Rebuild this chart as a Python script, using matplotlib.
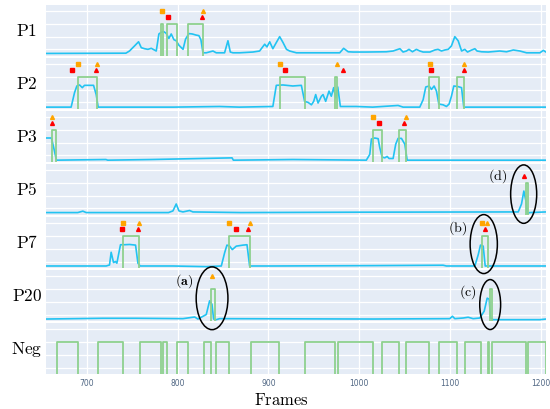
import numpy as np
import matplotlib.pyplot as plt
from matplotlib.patches import Ellipse

plt.rcParams['mathtext.fontset'] = 'cm'

panels = ['P1', 'P2', 'P3', 'P5', 'P7', 'P20', 'Neg']

# cyan score curves (frame, value)
f_p1 = [655, 743, 747, 752.6, 757, 760, 763.6, 767.3, 771, 776.5, 779.4, 782, 784.6, 787.5, 790.4, 793, 796, 798.5,
        801.5, 806, 808.8, 812.5, 816.2, 820, 823.5, 825.7, 828, 831.6, 839, 842.6, 851.8, 855.5, 858.1, 861, 868.4,
        883, 890.4, 896, 898.5, 901.5, 905, 908.8, 912.5, 916.2, 920, 923.5, 931, 942, 964, 978.7, 983, 988, 993.4,
        1008, 1030, 1037.5, 1045, 1048.5, 1052.2, 1055, 1058.8, 1063.2, 1067, 1070.6, 1078, 1083.5, 1087, 1090.8,
        1094.5, 1098.2, 1101.8, 1105.5, 1109.2, 1113, 1116.5, 1119.5, 1123.2, 1127.6, 1130, 1135, 1142.3, 1155,
        1162.5, 1170, 1177.2, 1184.6, 1199.3, 1203, 1206]
v_p1 = [-0.32, -0.3, -0.13, 0.27, 0.59, 0.13, 0.05, 0.0, 0.08, -0.13, 1.2, 1.33, 1.39, 1.25, 0.85, 1.2, 0.75, 0.67,
        0.32, 0.0, 0.8, 1.23, 1.2, 1.12, 1.07, 0.75, -0.27, -0.27, -0.13, -0.27, -0.27, 0.67, -0.21, -0.27, -0.27,
        -0.21, -0.13, 0.4, 0.19, 0.59, 0.05, 0.53, 0.99, 0.53, 0.0, -0.13, -0.27, -0.27, -0.27, -0.27, 0.08, -0.19,
        -0.21, -0.21, -0.19, -0.13, 0.05, -0.21, -0.13, 0.0, -0.19, 0.0, -0.13, -0.21, -0.21, -0.05, 0.0, -0.13,
        -0.05, 0.0, 0.27, 0.99, 0.67, -0.13, 0.0, -0.21, -0.08, 0.05, -0.13, -0.19, -0.21, -0.13, -0.19, -0.05,
        -0.13, -0.27, -0.27, -0.08, -0.21]

f_p2 = [655, 682.7, 686.4, 689, 692, 695, 697.4, 703, 707.4, 710.3, 712.5, 740, 795, 846.3, 868, 905, 908.8, 916,
        927, 936.4, 940, 943.8, 947.5, 950, 952.2, 954.8, 958.5, 960.3, 963.2, 966.9, 969.4, 972, 974.3, 976.5,
        979.4, 997, 1015, 1043, 1048.5, 1066.9, 1070.6, 1073.5, 1077.2, 1079.8, 1082.7, 1085.3, 1087.9, 1092.6,
        1096.3, 1099.2, 1101.8, 1104.4, 1109.2, 1112.9, 1115.4, 1206]
v_p2 = [-0.37, -0.37, 0.75, 1.28, 1.36, 1.15, 1.33, 1.33, 1.33, 0.61, -0.37, -0.37, -0.37, -0.32, -0.37, -0.32,
        1.33, 1.36, 1.28, 1.33, 0.08, 0.0, -0.19, 0.08, 0.61, -0.05, 0.48, 0.61, 0.08, 0.88, 0.48, 1.15, 0.35, 1.2,
        -0.32, -0.32, -0.37, -0.24, -0.37, -0.37, 0.21, 1.2, 1.28, 1.01, 1.28, 0.88, -0.13, -0.19, -0.32, -0.13,
        0.48, 1.28, 1.23, 1.15, -0.37, -0.37]

f_p3 = [655, 661, 663.5, 666.5, 721, 723, 771, 860, 861.5, 864, 927, 1008, 1011.8, 1013.6, 1017.3, 1021, 1022.8,
        1025.4, 1028.3, 1030.9, 1033.1, 1037.5, 1040.4, 1043, 1046.7, 1050.4, 1053, 1206]
v_p3 = [1.36, 1.36, 0.6, -0.37, -0.32, -0.37, -0.32, -0.19, -0.37, -0.37, -0.32, -0.37, 0.08, 1.28, 1.36, 1.31,
        0.61, -0.13, -0.19, -0.08, -0.24, -0.24, 0.88, 1.33, 1.33, 0.88, -0.37, -0.37]

f_p5 = [655, 690, 695.6, 699.3, 790, 794.9, 798.5, 801.5, 805.9, 813.2, 816.9, 870, 1000, 1175.4, 1179, 1181.6,
        1183.8, 1185.3, 1188, 1206]
v_p5 = [-0.32, -0.32, -0.21, -0.32, -0.32, -0.19, 0.35, -0.19, -0.27, -0.16, -0.27, -0.32, -0.29, -0.27, 0.35,
        1.36, 0.61, -0.4, -0.32, -0.27]

f_p7 = [655, 721.3, 725, 726.8, 729.4, 731.6, 733.1, 735.3, 737.1, 741.5, 747.1, 753.7, 756.3, 758.8, 794.9, 831.6,
        848.2, 851.8, 854.4, 857.4, 860.3, 864.7, 872.1, 876.5, 879.4, 905.1, 1015.4, 1092.6, 1096.3, 1127.6, 1131.3,
        1133.8, 1136.8, 1139, 1206]
v_p7 = [-0.35, -0.35, -0.27, 0.72, -0.08, 0.0, -0.13, 0.67, 1.31, 1.31, 1.33, 1.28, -0.13, -0.35, -0.35, -0.4,
        -0.35, 0.67, 1.28, 1.2, 0.93, 1.2, 1.28, 1.31, -0.35, -0.35, -0.32, -0.29, -0.35, -0.35, 0.53, 1.28, 1.2,
        -0.35, -0.35]

f_p20 = [655, 717.6, 754.4, 805.9, 818.8, 822.4, 831.6, 835.3, 837.9, 839.7, 842.6, 846.3, 1015.4, 1100, 1102.9,
         1105.5, 1114.7, 1120.2, 1125.7, 1133.1, 1137.9, 1141.2, 1143.4, 1144.9, 1147.8, 1199.3, 1206]
v_p20 = [-0.35, -0.29, -0.29, -0.32, -0.19, -0.35, 0.0, 1.07, 0.8, -0.35, -0.4, -0.32, -0.35, -0.32, -0.13, -0.32,
         -0.27, -0.21, -0.32, -0.27, 0.27, 1.28, 1.2, -0.27, -0.4, -0.4, -0.35]

curves = {'P1': (f_p1, v_p1), 'P2': (f_p2, v_p2), 'P3': (f_p3, v_p3), 'P5': (f_p5, v_p5),
          'P7': (f_p7, v_p7), 'P20': (f_p20, v_p20)}

# green ground-truth intervals
intervals = {
    'P1': [(781.3, 783.5), (788.6, 799.3), (811.4, 827.9)],
    'P2': [(690.8, 711), (912.5, 940), (973.2, 975.7), (1077.2, 1087.9), (1107.4, 1115.8)],
    'P3': [(661.4, 666.2), (1015.4, 1025.4), (1044.1, 1052.2)],
    'P5': [(1184.5, 1186.4)],
    'P7': [(739.7, 757.4), (856.6, 879.4), (1136, 1142.3)],
    'P20': [(837, 841.5), (1144, 1147)],
    'Neg': [(666.9, 690.1), (712.1, 739.7), (758.1, 782), (783.8, 788.2), (799.6, 811.4), (828.7, 837.1),
            (841.9, 856.6), (880.5, 911.8), (940.8, 973.2), (976.8, 1015.4), (1025.7, 1044.1), (1052.2, 1077.2),
            (1088.2, 1107.4), (1116.5, 1134.9), (1142.3, 1143.4), (1147, 1183.8), (1186.4, 1206)],
}

# detection markers (frames)
orange_sq = {'P1': [782.7], 'P2': [690.8, 912.5, 1078], 'P3': [1015.4], 'P7': [739.7, 856.6, 1135.5]}
red_sq = {'P1': [789], 'P2': [683.8, 918, 1079.8], 'P3': [1022], 'P7': [739, 864]}
orange_tri = {'P1': [828], 'P2': [711, 975.7, 1115.4], 'P3': [661.8, 1052.2], 'P7': [757, 879.4, 1141],
              'P20': [837.9]}
red_tri = {'P1': [827.2], 'P2': [710.3, 982.4, 1115.4], 'P3': [661.4, 1050], 'P5': [1181.6],
           'P7': [756.3, 878, 1138.5]}

# highlighted cases: panel, centre frame, centre y, width, height, label, label frame, label y
highlights = [
    ('P20', 838, 1.27, 35, 4.9, r'$\mathbf{(a)}$', 807.7, 2.7),
    ('P7', 1137.4, 1.36, 30, 4.6, r'$\mathrm{(b)}$', 1108.4, 2.69),
    ('P20', 1144.5, 0.78, 23, 3.9, r'$\mathrm{(c)}$', 1119.4, 1.84),
    ('P5', 1181.4, 1.12, 28.7, 4.56, r'$\mathrm{(d)}$', 1152.5, 2.64),
]

cyan = '#22C3F2'
green = '#8ED18E'

fig, axes = plt.subplots(7, 1, figsize=(5.5, 4.1), dpi=100, sharex=True, gridspec_kw={'hspace': 0.035})
fig.subplots_adjust(left=46/550, right=546/550, top=1-5.5/410, bottom=1-375/410)

ax_of = dict(zip(panels, axes))
for name, ax in ax_of.items():
    ax.set_facecolor('#E5ECF6')
    ax.set_xlim(655, 1206)
    ax.set_ylim(-0.5, 3.5)
    ax.set_yticks([0, 1, 2, 3])
    ax.set_xticks([700, 800, 900, 1000, 1100, 1200])
    ax.tick_params(length=0, labelleft=False, labelsize=5.5, labelcolor='#506784', pad=3)
    ax.grid(color='white', lw=0.9)
    ax.set_axisbelow(True)
    for s in ax.spines.values():
        s.set_visible(False)
    ax.text(-0.038, 0.5, r'$\mathrm{%s}$' % name, transform=ax.transAxes, ha='center', va='center', fontsize=12.5)

    if name in curves:
        f, v = curves[name]
        ax.plot(f, v, color=cyan, lw=1.2, zorder=3)

    xs, ys = [], []
    for a, b in intervals[name]:
        xs += [a, a, b, b]
        ys += [-1, 2, 2, -1]
    ax.plot(xs, ys, color=green, lw=1.3, zorder=4)

    ax.plot(orange_sq.get(name, []), [3] * len(orange_sq.get(name, [])), 's', color='#FFA500', ms=2.7, zorder=5)
    ax.plot(red_sq.get(name, []), [2.5] * len(red_sq.get(name, [])), 's', color='#FF0000', ms=2.7, zorder=5)
    ax.plot(orange_tri.get(name, []), [3] * len(orange_tri.get(name, [])), '^', color='#FFA500', ms=2.8, zorder=5)
    ax.plot(red_tri.get(name, []), [2.5] * len(red_tri.get(name, [])), '^', color='#FF0000', ms=2.8, zorder=5)

for name, fc, yc, w, h, lab, fl, yl in highlights:
    ax = ax_of[name]
    fig.add_artist(Ellipse((fc, yc), w, h, fill=False, ec='black', lw=1.1, transform=ax.transData))
    ax.text(fl, yl, lab, ha='center', va='center', fontsize=10, zorder=6)

fig.text(0.511, 0.024, r'$\mathrm{Frames}$', ha='center', va='center', fontsize=12)

fig.savefig('out.png', dpi=100)
